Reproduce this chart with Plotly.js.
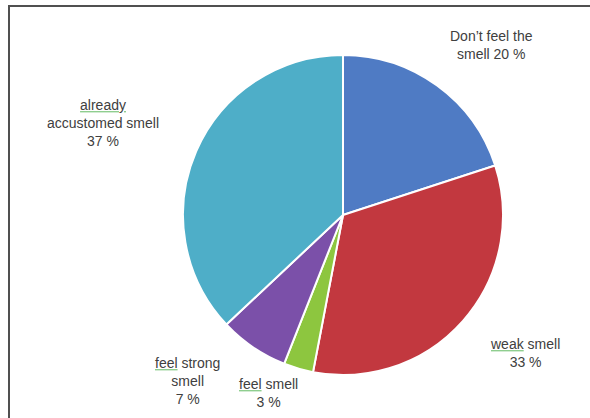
<!DOCTYPE html>
<html>
<head>
<meta charset="utf-8">
<script src="https://cdn.plot.ly/plotly-3.0.1.min.js"></script>
<style>html,body{margin:0;padding:0;background:#fff;}#chart{width:590px;height:418px;}</style>
</head>
<body>
<div id="chart"></div>
<script>
// Data
const categories = ["Don’t feel the smell", "weak smell", "feel smell", "feel strong smell", "already accustomed smell"];
const percents = [20, 33, 3, 7, 37];
const sliceColors = ["#4F7BC4", "#C2383F", "#8DC63F", "#7B50A9", "#4EAEC8"];
// spell-check style mark on a word
const mark = w => "<span style='text-decoration:underline;color:#8fce8f'><span style='color:#404040'>" + w + "</span></span>";
// Label text (with line breaks as drawn)
const labelHtml = [
  "Don’t feel the<br>smell " + percents[0] + " %",
  mark("weak") + " smell<br>" + percents[1] + " %",
  mark("feel") + " smell<br>" + percents[2] + " %",
  mark("feel") + " strong<br>smell<br>" + percents[3] + " %",
  mark("already") + "<br>accustomed smell<br>" + percents[4] + " %"
];
// Label placement (layout, in pixels)
const labelPos = [[491, 45], [525, 353], [268, 393], [187, 381], [103, 123]];

const W = 590, H = 418;
const cx = 343, cy = 215, r = 160;

const trace = {
  type: "pie",
  labels: categories,
  values: percents,
  sort: false,
  direction: "clockwise",
  rotation: 0,
  textinfo: "none",
  hoverinfo: "none",
  showlegend: false,
  marker: {colors: sliceColors, line: {color: "#ffffff", width: 2}},
  domain: {x: [(cx - r) / W, (cx + r) / W], y: [(H - cy - r) / H, (H - cy + r) / H]}
};

const annotations = labelHtml.map((t, i) => ({
  text: t,
  xref: "paper", yref: "paper",
  x: labelPos[i][0] / W, y: 1 - labelPos[i][1] / H,
  xanchor: "center", yanchor: "middle",
  showarrow: false, align: "center",
  font: {family: "Liberation Sans, Arial, sans-serif", size: 14, color: "#404040"}
}));

const layout = {
  width: W, height: H,
  margin: {l: 0, r: 0, t: 0, b: 0},
  paper_bgcolor: "#ffffff",
  annotations: annotations,
  shapes: [{
    type: "rect", xref: "paper", yref: "paper",
    x0: 9 / W, x1: 1.05, y0: -0.05, y1: 1 - 6 / H,
    line: {color: "#505050", width: 2}
  }]
};

Plotly.newPlot("chart", [trace], layout, {displayModeBar: false, staticPlot: true});
</script>
</body>
</html>
